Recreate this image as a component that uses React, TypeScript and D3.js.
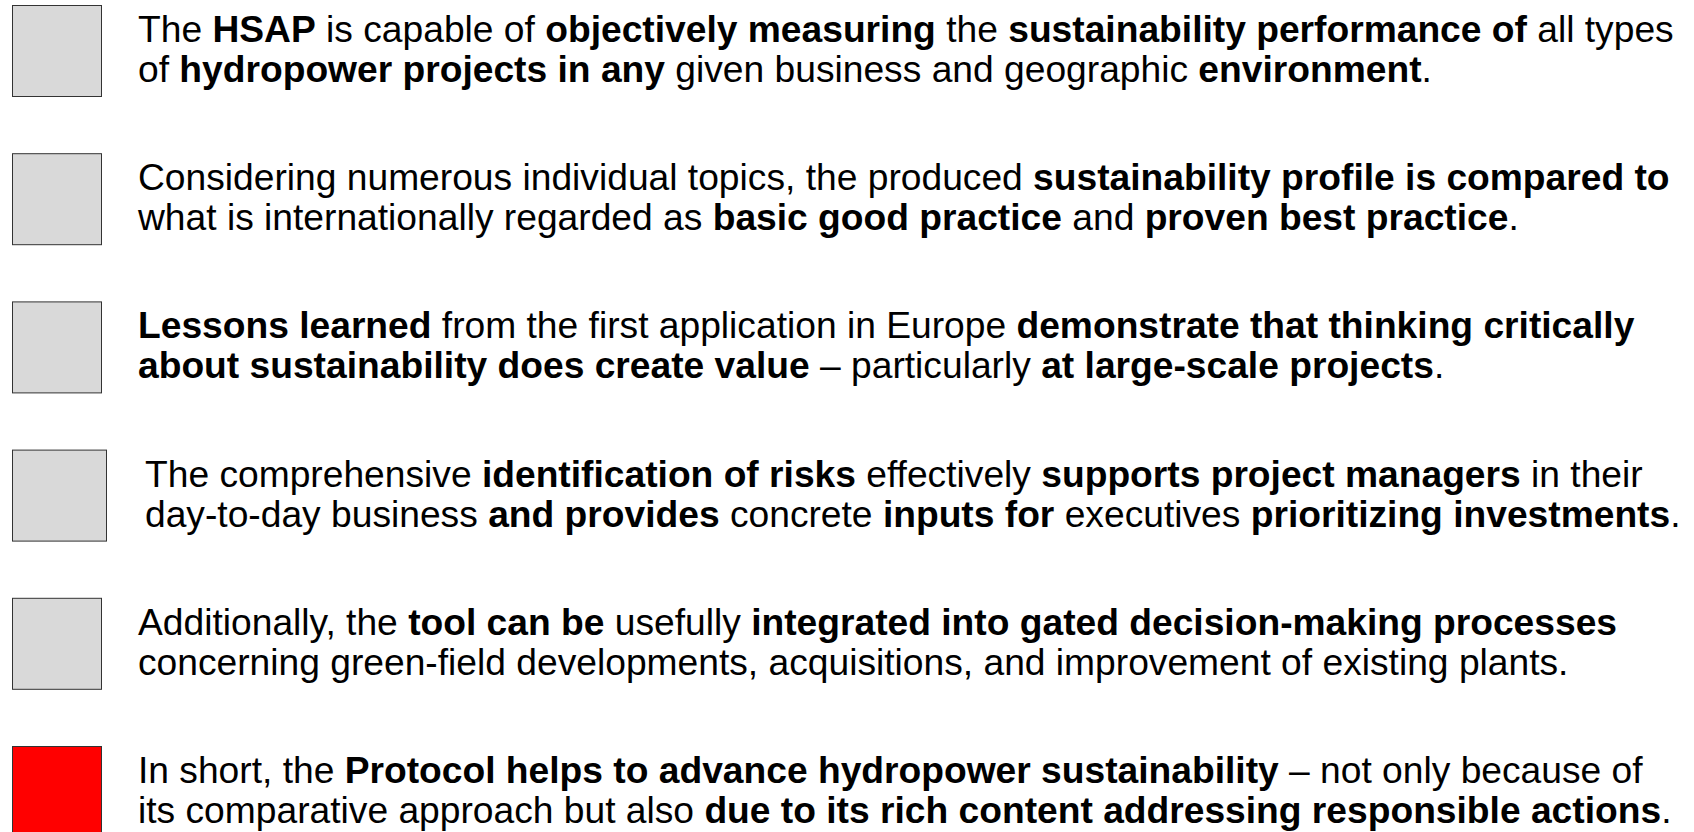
import React from 'react';
import * as d3 from 'd3';

// each statement: two lines, **bold** parts marked
const line1 = [
  'The **HSAP** is capable of **objectively measuring** the **sustainability performance of** all types',
  'Considering numerous individual topics, the produced **sustainability profile is compared to**',
  '**Lessons learned** from the first application in Europe **demonstrate that thinking critically**',
  'The comprehensive **identification of risks** effectively **supports project managers** in their',
  'Additionally, the **tool can be** usefully **integrated into gated decision-making processes**',
  'In short, the **Protocol helps to advance hydropower sustainability** – not only because of',
];
const line2 = [
  'of **hydropower projects in any** given business and geographic **environment**.',
  'what is internationally regarded as **basic good practice** and **proven best practice**.',
  '**about sustainability does create value** – particularly **at large-scale projects**.',
  'day-to-day business **and provides** concrete **inputs for** executives **prioritizing investments**.',
  'concerning green-field developments, acquisitions, and improvement of existing plants.',
  'its comparative approach but also **due to its rich content addressing responsible actions**.',
];
const highlighted = [false, false, false, false, false, true];

const W = 1694;
const H = 832;

function parts(s: string) {
  return s.split('**').map((t, i) => ({ t, bold: i % 2 === 1 })).filter((p) => p.t.length > 0);
}

export default function App() {
  const idx = line1.map((_, i) => i);
  const y = d3.scalePoint<number>().domain(idx).range([5, 746]);
  const fontSize = 37.2;
  const lineGap = 40;

  return (
    <svg width={W} height={H} style={{ position: 'absolute', left: 0, top: 0, background: '#fff' }}>
      {idx.map((i) => {
        const top = y(i) as number;
        const shifted = i === 3; // 4th box is a bit wider in the slide
        const boxW = shifted ? 94 : 89;
        const tx = shifted ? 145 : 138;
        return (
          <g key={i}>
            <rect
              x={12.5}
              y={top + 0.5}
              width={boxW}
              height={91}
              fill={highlighted[i] ? '#ff0000' : '#d9d9d9'}
              stroke="#333"
              strokeWidth={1}
            />
            {[line1[i], line2[i]].map((ln, k) => (
              <text
                key={k}
                x={tx}
                y={top + 37 + k * lineGap}
                fontFamily="'Liberation Sans', Arial, sans-serif"
                fontSize={fontSize}
                fill="#000"
                style={{ whiteSpace: 'pre' }}
              >
                {parts(ln).map((p, j) => (
                  <tspan key={j} fontWeight={p.bold ? 'bold' : 'normal'}>
                    {p.t}
                  </tspan>
                ))}
              </text>
            ))}
          </g>
        );
      })}
    </svg>
  );
}
